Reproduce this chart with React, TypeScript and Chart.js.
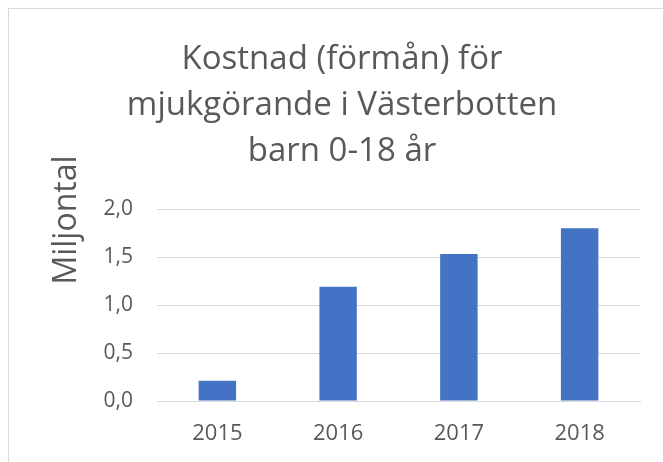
import React, { useEffect, useRef } from "react";
import { Chart, registerables } from "chart.js";

Chart.register(...registerables);

const titleLines = ["Kostnad (förmån) för", "mjukgörande i Västerbotten", "barn 0-18 år"];
const yAxisTitle = "Miljontal";
const categories = ["2015", "2016", "2017", "2018"];
const values = [0.21, 1.19, 1.53, 1.8];
const yTicks = [0, 0.5, 1.0, 1.5, 2.0];

const FONT = "'Open Sans', 'Segoe UI', sans-serif";
const TEXT = "#595959";
const GRID = "#d9d9d9";

const yTitlePlugin = {
  id: "yTitlePlugin",
  afterDraw(chart: any) {
    const ctx = chart.ctx;
    ctx.save();
    ctx.translate(58, 211);
    ctx.rotate(-Math.PI / 2);
    ctx.font = `32px ${FONT}`;
    ctx.fillStyle = TEXT;
    ctx.textAlign = "center";
    ctx.textBaseline = "middle";
    ctx.fillText(yAxisTitle, 0, 0);
    ctx.restore();
  },
};

export default function App() {
  const ref = useRef<HTMLCanvasElement>(null);
  useEffect(() => {
    if (!ref.current) return;
    const chart = new Chart(ref.current, {
      type: "bar",
      data: {
        labels: categories,
        datasets: [
          {
            data: values,
            backgroundColor: "#4472C4",
            borderWidth: 0,
            categoryPercentage: 1,
            barPercentage: 0.31,
          },
        ],
      },
      options: {
        animation: false,
        responsive: false,
        layout: { padding: 0 },
        plugins: {
          legend: { display: false },
          tooltip: { enabled: false },
          title: {
            display: true,
            text: titleLines,
            color: TEXT,
            font: { family: FONT, size: 33, weight: "normal", lineHeight: 46 / 33 },
            padding: { top: 27.5, bottom: 34.5 },
          },
        },
        scales: {
          x: {
            afterFit(scale: any) {
              scale.height = 61;
            },
            grid: { display: false, drawTicks: false },
            border: { display: true, color: GRID, width: 1 },
            ticks: { color: TEXT, font: { family: FONT, size: 22 }, padding: 20 },
          },
          y: {
            min: 0,
            max: 2,
            afterFit(scale: any) {
              scale.width = 148;
            },
            afterBuildTicks(scale: any) {
              scale.ticks = yTicks.map((v) => ({ value: v }));
            },
            grid: { color: GRID, lineWidth: 1, drawTicks: false },
            border: { display: false },
            ticks: {
              color: TEXT,
              font: { family: FONT, size: 21 },
              padding: 24,
              callback: (v: any) => Number(v).toFixed(1).replace(".", ","),
            },
          },
          spacer: {
            type: "linear",
            position: "right",
            display: true,
            afterFit(scale: any) {
              scale.width = 35;
            },
            grid: { display: false, drawTicks: false },
            border: { display: false },
            ticks: { display: false },
          },
        },
      },
      plugins: [yTitlePlugin],
    });
    return () => chart.destroy();
  }, []);
  return (
    <div
      style={{
        position: "fixed",
        left: 8,
        top: 8,
        width: 654,
        height: 453,
        overflow: "hidden",
        borderLeft: `1px solid ${GRID}`,
        borderTop: `1px solid ${GRID}`,
        background: "#fff",
      }}
    >
      <canvas ref={ref} width={666} height={453} style={{ display: "block", width: 666, height: 453 }} />
    </div>
  );
}
